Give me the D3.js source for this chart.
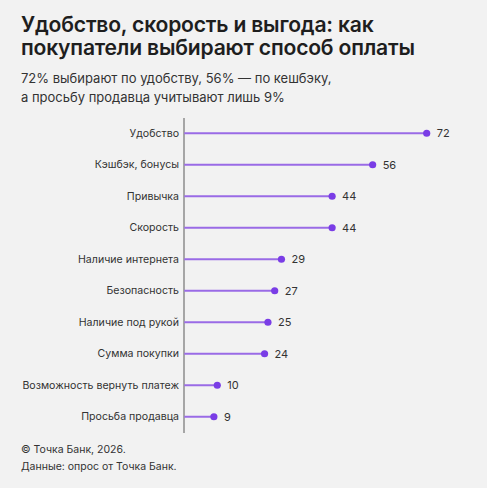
<!DOCTYPE html>
<html>
<head>
<meta charset="utf-8">
<title>Удобство, скорость и выгода</title>
<script src="https://d3js.org/d3.v7.min.js"></script>
<style>
  html, body { margin: 0; padding: 0; background: #f2f2f2; }
  svg { display: block; font-family: Inter, "Noto Sans", sans-serif; }
</style>
</head>
<body>
<script>
var categories = [
  "Удобство",
  "Кэшбэк, бонусы",
  "Привычка",
  "Скорость",
  "Наличие интернета",
  "Безопасность",
  "Наличие под рукой",
  "Сумма покупки",
  "Возможность вернуть платеж",
  "Просьба продавца"
];
var values = [72, 56, 44, 44, 29, 27, 25, 24, 10, 9];

var titleLines = ["Удобство, скорость и выгода: как", "покупатели выбирают способ оплаты"];
var subtitleLines = ["72% выбирают по удобству, 56% — по кешбэку,", "а просьбу продавца учитывают лишь 9%"];
var footerLines = ["© Точка Банк, 2026.", "Данные: опрос от Точка Банк."];

var width = 487, height = 488;

var svg = d3.select("body").append("svg")
  .attr("width", width)
  .attr("height", height);

svg.append("rect")
  .attr("width", width)
  .attr("height", height)
  .attr("fill", "#f2f2f2");

// title + subtitle
svg.append("g").selectAll("text")
  .data(titleLines)
  .enter().append("text")
  .attr("x", 21)
  .attr("y", function(d, i) { return 32 + i * 23; })
  .attr("font-size", 21.1)
  .attr("font-weight", 600)
  .attr("fill", "#1e1e1e")
  .attr("letter-spacing", "-0.2")
  .text(function(d) { return d; });

svg.append("g").selectAll("text")
  .data(subtitleLines)
  .enter().append("text")
  .attr("x", 21)
  .attr("y", function(d, i) { return 83 + i * 19; })
  .attr("font-size", 13)
  .attr("fill", "#333")
  .text(function(d) { return d; });

var x0 = 183.5;
var x = d3.scaleLinear()
  .domain([0, 72])
  .range([x0, 426.7]);

var y = d3.scaleBand()
  .domain(categories)
  .range([117.5, 432.5])
  .padding(0);

var data = categories.map(function(c, i) { return {cat: c, val: values[i]}; });

var yAxis = svg.append("g")
  .attr("transform", "translate(" + x0 + ",0)")
  .call(d3.axisLeft(y).tickSize(0).tickPadding(4.5));
yAxis.select(".domain")
  .attr("stroke", "#8c8c8c")
  .attr("stroke-width", 1.5);
yAxis.selectAll("text")
  .attr("font-family", "Inter, 'Noto Sans', sans-serif")
  .attr("font-size", 10.6)
  .attr("fill", "#333");

var rows = svg.append("g").selectAll("g")
  .data(data)
  .enter().append("g")
  .attr("transform", function(d) { return "translate(0," + (y(d.cat) + y.bandwidth() / 2) + ")"; });

rows.append("line")
  .attr("x1", x(0) + 0.75)
  .attr("x2", function(d) { return x(d.val); })
  .attr("stroke", "#9a6be6")
  .attr("stroke-width", 2);

rows.append("circle")
  .attr("cx", function(d) { return x(d.val); })
  .attr("r", 3.6)
  .attr("fill", "#7a3de6");

rows.append("text")
  .attr("x", function(d) { return x(d.val) + 10; })
  .attr("dy", "0.35em")
  .attr("font-size", 11)
  .attr("fill", "#333")
  .text(function(d) { return d.val; });

svg.append("g").selectAll("text")
  .data(footerLines)
  .enter().append("text")
  .attr("x", 21)
  .attr("y", function(d, i) { return 453 + i * 16.5; })
  .attr("font-size", 10.5)
  .attr("fill", "#333")
  .text(function(d) { return d; });
</script>
</body>
</html>
